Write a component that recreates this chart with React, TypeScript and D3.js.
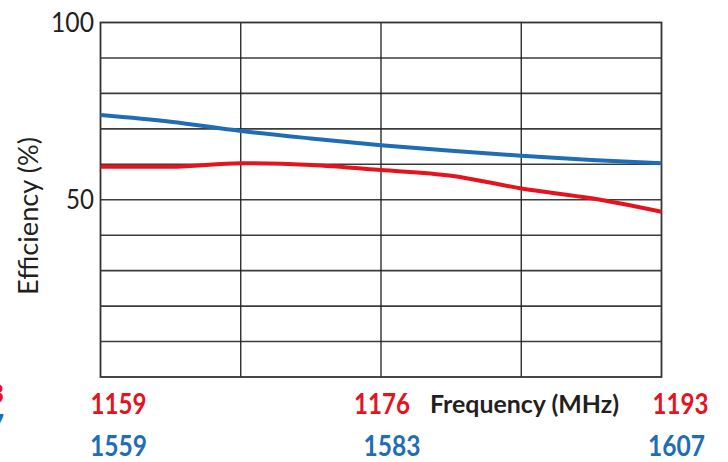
import React from "react";
import * as d3 from "d3";

// Grid positions (column units 0..4) and efficiency values (%)
const redX = [0, 0.5, 1, 1.5, 2, 2.5, 3, 3.5, 4];
const redY = [59.3, 59.3, 60.3, 59.8, 58.4, 56.8, 53.2, 50.4, 46.6];
const blueX = [0, 0.5, 1, 1.5, 2, 2.5, 3, 3.5, 4];
const blueY = [73.9, 72.0, 69.4, 67.3, 65.4, 63.8, 62.4, 61.2, 60.3];

const redTicks = ["1159", "1176", "1193"];
const redTickPos = [0, 2, 4];
const blueTicks = ["1559", "1583", "1607"];
const blueTickPos = [0, 2, 4];
const yTicks = [50, 100];
const yGrid = [10, 20, 30, 40, 50, 60, 70, 80, 90];
const xGrid = [1, 2, 3];

const W = 728;
const H = 462;
const RED = "#e5131e";
const BLUE = "#1f6db7";
const TEXT = "#231f20";
const FONT = "Lato, 'Open Sans', sans-serif";

export default function App() {
  const x = d3.scaleLinear().domain([0, 4]).range([100.5, 661.5]);
  const y = d3.scaleLinear().domain([0, 100]).range([377, 22.5]);

  const mk = (xs: number[], ys: number[]) =>
    d3
      .line<number>()
      .x((_, i) => x(xs[i]))
      .y((v) => y(v))
      .curve(d3.curveMonotoneX)(ys) || "";

  const redDx = [18, 1, 19];
  const blueDx = [18, 11, 15];

  return (
    <svg
      width={W}
      height={H}
      style={{ position: "absolute", left: 0, top: 0, background: "#fff" }}
      fontFamily={FONT}
    >
      {yGrid.map((g) => (
        <line
          key={"h" + g}
          x1={x(0)}
          x2={x(4)}
          y1={y(g)}
          y2={y(g)}
          stroke="#3c3c3c"
          strokeWidth={1.6}
        />
      ))}
      {xGrid.map((g) => (
        <line
          key={"v" + g}
          x1={x(g)}
          x2={x(g)}
          y1={y(0)}
          y2={y(100)}
          stroke="#1e1e1e"
          strokeWidth={1.3}
        />
      ))}
      <rect
        x={x(0)}
        y={y(100)}
        width={x(4) - x(0)}
        height={y(0) - y(100)}
        fill="none"
        stroke="#333"
        strokeWidth={1.8}
      />

      <path d={mk(blueX, blueY)} fill="none" stroke={BLUE} strokeWidth={4} />
      <path d={mk(redX, redY)} fill="none" stroke={RED} strokeWidth={4} />

      {yTicks.map((t) => (
        <text
          key={"yt" + t}
          x={94}
          y={y(t)}
          dy="0.35em"
          textAnchor="end"
          fontSize={26}
          fill={TEXT}
          textLength={t === 100 ? 43 : 28}
          lengthAdjust="spacingAndGlyphs"
        >
          {t}
        </text>
      ))}

      <text
        transform={`translate(38,216) rotate(-90)`}
        textAnchor="middle"
        fontSize={26}
        fill={TEXT}
        textLength={158}
        lengthAdjust="spacingAndGlyphs"
      >
        Efficiency (%)
      </text>

      {redTicks.map((t, i) => (
        <text
          key={"r" + t}
          x={x(redTickPos[i]) + redDx[i]}
          y={414}
          textAnchor="middle"
          fontSize={28}
          fontWeight={700}
          fill={RED}
          textLength={56}
          lengthAdjust="spacingAndGlyphs"
        >
          {t}
        </text>
      ))}
      {blueTicks.map((t, i) => (
        <text
          key={"b" + t}
          x={x(blueTickPos[i]) + blueDx[i]}
          y={456}
          textAnchor="middle"
          fontSize={28}
          fontWeight={700}
          fill={BLUE}
          textLength={57}
          lengthAdjust="spacingAndGlyphs"
        >
          {t}
        </text>
      ))}

      <text
        x={430}
        y={413}
        fontSize={25}
        fontWeight={700}
        fill={TEXT}
        textLength={189}
        lengthAdjust="spacingAndGlyphs"
      >
        Frequency (MHz)
      </text>

      {/* fragments of neighbouring panel labels, cut off at the edge as in the reference */}
      <text x={4} y={403} textAnchor="end" fontSize={26} fontWeight={700} fill={RED}>
        3
      </text>
      <text x={4} y={433} textAnchor="end" fontSize={26} fontWeight={700} fill={BLUE}>
        7
      </text>
    </svg>
  );
}
